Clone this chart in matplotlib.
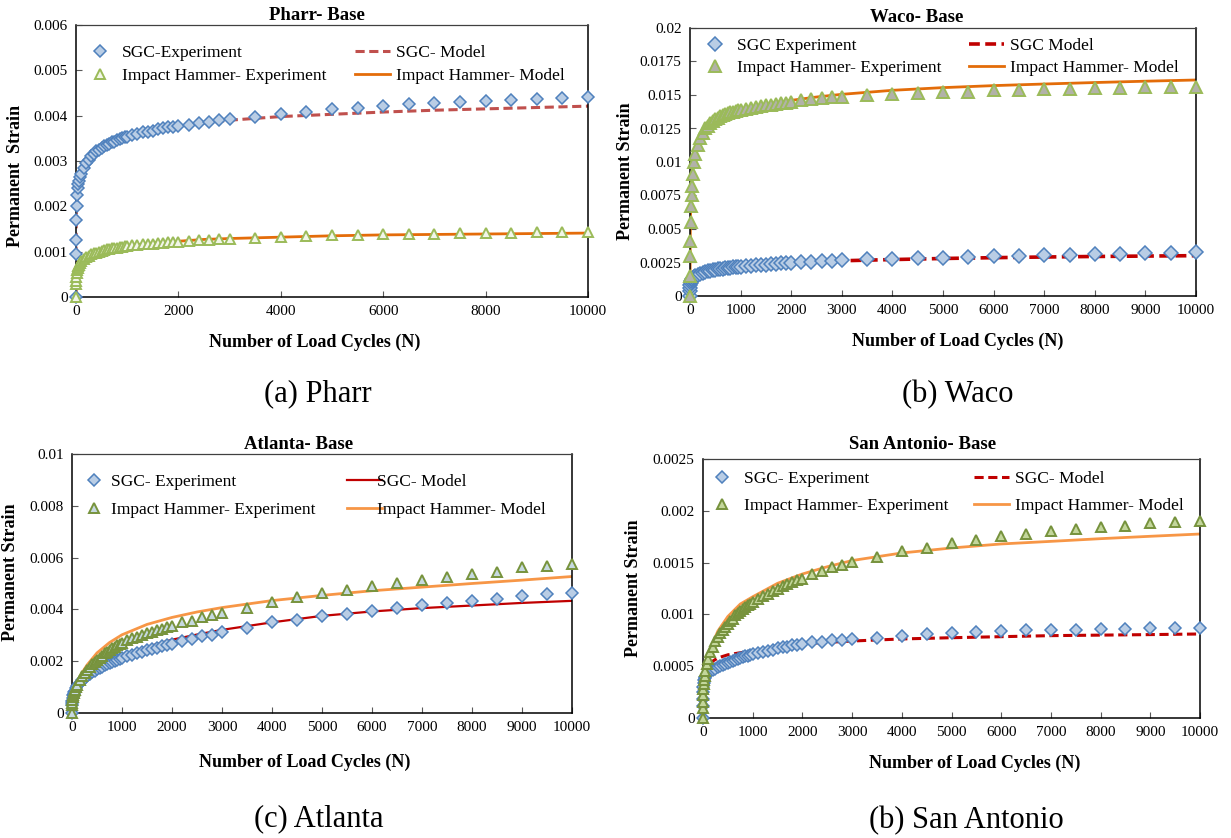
import numpy as np
import matplotlib
matplotlib.use('Agg')
import matplotlib.pyplot as plt
from matplotlib.lines import Line2D
from matplotlib.ticker import FuncFormatter, MultipleLocator

plt.rcParams['font.family'] = ['Liberation Serif', 'DejaVu Serif']

# --- data (strain values in units of 1e-3) ---
x_exp = [0, 1, 2, 5, 10, 20, 30, 40, 50, 75, 100,
         150, 200, 250, 300, 350, 400, 450, 500, 550, 600, 650, 700, 750, 800, 850, 900, 950, 1000,
         1100, 1200, 1300, 1400, 1500, 1600, 1700, 1800, 1900, 2000,
         2200, 2400, 2600, 2800, 3000,
         3500, 4000, 4500, 5000, 5500, 6000, 6500, 7000, 7500, 8000, 8500, 9000, 9500, 10000]
x_mod = [0, 1, 5, 10, 25, 50, 100, 200, 300, 500, 750, 1000, 1500, 2000, 2500, 3000,
         4000, 5000, 6000, 7000, 8000, 9000, 10000]

pharr_sgc_exp = [0, 0.95, 1.25, 1.7, 2.0, 2.25, 2.4, 2.5, 2.55, 2.65, 2.72,
                 2.85, 2.95, 3.03, 3.1, 3.16, 3.21, 3.25, 3.29, 3.32, 3.35, 3.38, 3.41, 3.43, 3.46, 3.48, 3.5, 3.52, 3.54,
                 3.57, 3.6, 3.63, 3.65, 3.67, 3.7, 3.72, 3.74, 3.76, 3.78,
                 3.80, 3.83, 3.87, 3.90, 3.93,
                 3.98, 4.04, 4.09, 4.14, 4.18, 4.21, 4.25, 4.28, 4.30, 4.32, 4.35, 4.37, 4.39, 4.41]
pharr_ih_exp = [0, 0.28, 0.35, 0.45, 0.52, 0.6, 0.65, 0.68, 0.7, 0.75, 0.79,
                0.84, 0.88, 0.91, 0.94, 0.96, 0.98, 1.0, 1.02, 1.03, 1.05, 1.06, 1.07, 1.08, 1.09, 1.10, 1.11, 1.12, 1.13,
                1.14, 1.15, 1.16, 1.17, 1.18, 1.19, 1.20, 1.21, 1.21, 1.22,
                1.24, 1.25, 1.26, 1.27, 1.29,
                1.31, 1.33, 1.34, 1.36, 1.37, 1.38, 1.39, 1.40, 1.41, 1.42, 1.42, 1.43, 1.44, 1.44]
pharr_sgc_mod = [0, 1.0, 1.7, 2.0, 2.35, 2.55, 2.75, 2.97, 3.1, 3.3, 3.45, 3.55, 3.68, 3.77, 3.84, 3.90,
                 3.98, 4.03, 4.08, 4.12, 4.15, 4.18, 4.21]
pharr_ih_mod = [0, 0.3, 0.45, 0.52, 0.62, 0.7, 0.79, 0.89, 0.95, 1.02, 1.09, 1.13, 1.19, 1.23, 1.27, 1.29,
                1.32, 1.35, 1.37, 1.38, 1.39, 1.40, 1.41]

waco_sgc_exp = [0, 0.4, 0.6, 0.8, 0.95, 1.1, 1.2, 1.27, 1.32, 1.42, 1.5,
                1.6, 1.67, 1.74, 1.8, 1.85, 1.89, 1.93, 1.96, 1.99, 2.02, 2.05, 2.08, 2.1, 2.12, 2.14, 2.16, 2.18, 2.2,
                2.23, 2.26, 2.29, 2.32, 2.35, 2.38, 2.4, 2.43, 2.46, 2.49,
                2.54, 2.57, 2.6, 2.64, 2.67,
                2.74, 2.79, 2.82, 2.86, 2.91, 2.96, 3.01, 3.04, 3.07, 3.12, 3.14, 3.2, 3.24, 3.26]
waco_ih_exp = [0, 1.5, 3.0, 4.1, 5.5, 6.7, 7.5, 8.2, 9.1, 10.0, 10.6,
               11.3, 11.8, 12.2, 12.5, 12.7, 12.9, 13.05, 13.2, 13.3, 13.4, 13.5, 13.6, 13.65, 13.7, 13.75, 13.8, 13.85, 13.9,
               13.97, 14.04, 14.1, 14.16, 14.22, 14.28, 14.33, 14.38, 14.43, 14.5,
               14.6, 14.69, 14.77, 14.84, 14.87,
               14.97, 15.04, 15.12, 15.19, 15.24, 15.34, 15.37, 15.44, 15.47, 15.5, 15.54, 15.6, 15.6, 15.6]
waco_sgc_mod = [0, 0.5, 0.85, 1.0, 1.2, 1.35, 1.5, 1.68, 1.8, 1.96, 2.1, 2.2, 2.35, 2.47, 2.56, 2.63,
                2.72, 2.8, 2.86, 2.91, 2.95, 2.98, 3.01]
waco_ih_mod = [0, 1.5, 4.5, 6.0, 8.0, 9.3, 10.6, 11.8, 12.5, 13.2, 13.6, 13.9, 14.3, 14.6, 14.85, 15.05,
               15.35, 15.55, 15.7, 15.82, 15.93, 16.03, 16.12]

atl_sgc_exp = [0, 0.3, 0.38, 0.48, 0.58, 0.68, 0.75, 0.8, 0.85, 0.95, 1.03,
               1.15, 1.26, 1.35, 1.43, 1.5, 1.57, 1.63, 1.68, 1.74, 1.79, 1.84, 1.88, 1.93, 1.97, 2.01, 2.05, 2.09, 2.12,
               2.19, 2.25, 2.31, 2.37, 2.42, 2.47, 2.52, 2.57, 2.62, 2.66,
               2.79, 2.85, 2.96, 3.03, 3.12,
               3.3, 3.5, 3.6, 3.73, 3.84, 3.95, 4.06, 4.18, 4.25, 4.34, 4.42, 4.51, 4.59, 4.63]
atl_ih_exp = [0, 0.3, 0.4, 0.5, 0.6, 0.7, 0.78, 0.85, 0.9, 1.0, 1.1,
              1.28, 1.42, 1.55, 1.67, 1.78, 1.88, 1.97, 2.06, 2.14, 2.22, 2.3, 2.37, 2.44, 2.5, 2.56, 2.62, 2.67, 2.72,
              2.8, 2.88, 2.95, 3.02, 3.08, 3.14, 3.2, 3.26, 3.31, 3.37,
              3.5, 3.57, 3.69, 3.78, 3.88,
              4.05, 4.28, 4.47, 4.65, 4.76, 4.92, 5.01, 5.13, 5.27, 5.37, 5.46, 5.62, 5.68, 5.76]
atl_sgc_mod = [0, 0.25, 0.45, 0.55, 0.72, 0.87, 1.07, 1.35, 1.55, 1.85, 2.05, 2.22, 2.55, 2.83, 3.03, 3.21,
               3.5, 3.75, 3.92, 4.05, 4.15, 4.25, 4.33]
atl_ih_mod = [0, 0.25, 0.45, 0.55, 0.75, 0.92, 1.18, 1.55, 1.85, 2.32, 2.72, 3.02, 3.42, 3.69, 3.9, 4.07,
              4.34, 4.54, 4.72, 4.86, 5.0, 5.13, 5.27]

sa_sgc_exp = [0, 0.12, 0.18, 0.25, 0.3, 0.34, 0.37, 0.39, 0.4, 0.42, 0.43,
              0.45, 0.46, 0.475, 0.49, 0.5, 0.51, 0.52, 0.53, 0.54, 0.55, 0.56, 0.57, 0.58, 0.585, 0.595, 0.6, 0.61, 0.618,
              0.63, 0.64, 0.65, 0.66, 0.676, 0.685, 0.69, 0.70, 0.705, 0.714,
              0.73, 0.737, 0.75, 0.756, 0.763,
              0.775, 0.795, 0.808, 0.824, 0.83, 0.837, 0.846, 0.853, 0.853, 0.862, 0.862, 0.866, 0.866, 0.868]
sa_ih_exp = [0, 0.1, 0.15, 0.22, 0.28, 0.33, 0.37, 0.41, 0.45, 0.52, 0.57,
             0.64, 0.69, 0.74, 0.78, 0.82, 0.85, 0.88, 0.91, 0.94, 0.96, 0.99, 1.01, 1.03, 1.05, 1.07, 1.09, 1.1, 1.12,
             1.15, 1.18, 1.2, 1.23, 1.25, 1.27, 1.29, 1.31, 1.33, 1.345,
             1.393, 1.416, 1.454, 1.477, 1.506,
             1.554, 1.615, 1.644, 1.689, 1.718, 1.754, 1.773, 1.805, 1.824, 1.844, 1.856, 1.879, 1.889, 1.898]
sa_sgc_mod = [0, 0.2, 0.3, 0.35, 0.42, 0.46, 0.5, 0.55, 0.58, 0.61, 0.63, 0.645, 0.685, 0.717, 0.73, 0.743,
              0.763, 0.775, 0.785, 0.795, 0.8, 0.805, 0.811]
sa_ih_mod = [0, 0.1, 0.2, 0.27, 0.38, 0.47, 0.58, 0.73, 0.84, 0.98, 1.1, 1.17, 1.3, 1.39, 1.46, 1.52,
             1.593, 1.641, 1.68, 1.705, 1.731, 1.754, 1.776]

W, H = 1231, 838


def fx(x):
    return x / W


def fy(y):
    return 1 - y / H


# pixel layout per panel: box = (left, top, right, bottom)
panels = [
    dict(title='Pharr- Base', caption='(a) Pharr', ylabel='Permanent  Strain',
         box=(76, 25, 588, 297), ymax=0.006, ystep=0.001, xstep=2000,
         title_xy=(317, 15), xlab_xy=(315, 342), ylab_xy=(16, 176), cap_xy=(318, 394),
         leg1=(100, 122), leg2=(355, 396), rows=(51, 78), lspace=0.4,
         data=(pharr_sgc_exp, pharr_ih_exp, pharr_sgc_mod, pharr_ih_mod),
         labels=('SGC-Experiment', 'Impact Hammer- Experiment', 'SGC- Model', 'Impact Hammer- Model'),
         sgc_ms=6, ih_ms=6.5, ih_face='#f2f6e9', ih_edge='#9bbb59',
         sgc_line=dict(color='#c0504d', ls=(0, (3, 1.5)), lw=2.2),
         ih_line=dict(color='#e46c0a', ls='-', lw=2)),
    dict(title='Waco- Base', caption='(b) Waco', ylabel='Permanent Strain',
         box=(690, 28, 1196, 296), ymax=0.02, ystep=0.0025, xstep=1000,
         title_xy=(917, 17), xlab_xy=(958, 341), ylab_xy=(625, 171), cap_xy=(958, 395),
         leg1=(715, 737), leg2=(969, 1010), rows=(44, 70), lspace=0.35,
         data=(waco_sgc_exp, waco_ih_exp, waco_sgc_mod, waco_ih_mod),
         labels=('SGC Experiment', 'Impact Hammer- Experiment', 'SGC Model', 'Impact Hammer- Model'),
         sgc_ms=7, ih_ms=8, ih_face='#b2b2a8', ih_edge='#9bbb59',
         sgc_line=dict(color='#c00000', ls=(0, (3, 1.5)), lw=2.6),
         ih_line=dict(color='#e36c09', ls='-', lw=2)),
    dict(title='Atlanta- Base', caption='(c) Atlanta', ylabel='Permanent Strain',
         box=(72, 454, 572, 713), ymax=0.01, ystep=0.002, xstep=1000,
         title_xy=(299, 444), xlab_xy=(305, 762), ylab_xy=(11, 572), cap_xy=(319, 819),
         leg1=(94, 111), leg2=(347, 377), rows=(480, 512), lspace=0.7,
         data=(atl_sgc_exp, atl_ih_exp, atl_sgc_mod, atl_ih_mod),
         labels=('SGC- Experiment', 'Impact Hammer- Experiment', 'SGC- Model', 'Impact Hammer- Model'),
         sgc_ms=6, ih_ms=7.5, ih_face='#c6d9e0', ih_edge='#77933c',
         sgc_line=dict(color='#c00000', ls='-', lw=1.6),
         ih_line=dict(color='#f79646', ls='-', lw=2)),
    dict(title='San Antonio- Base', caption='(b) San Antonio', ylabel='Permanent Strain',
         box=(703, 459, 1200, 718), ymax=0.0025, ystep=0.0005, xstep=1000,
         title_xy=(923, 444), xlab_xy=(975, 763), ylab_xy=(634, 588), cap_xy=(966, 821),
         leg1=(722, 744), leg2=(974, 1015), rows=(477, 508), lspace=0.63,
         data=(sa_sgc_exp, sa_ih_exp, sa_sgc_mod, sa_ih_mod),
         labels=('SGC- Experiment', 'Impact Hammer- Experiment', 'SGC- Model', 'Impact Hammer- Model'),
         sgc_ms=6.5, ih_ms=6.5, ih_face='#c3d69b', ih_edge='#76923c',
         sgc_line=dict(color='#c00000', ls=(0, (3, 1.5)), lw=2.2),
         ih_line=dict(color='#f79646', ls='-', lw=2)),
]

fig = plt.figure(figsize=(W / 100, H / 100), dpi=100)

LEG_FS = 12.5
fs_px = LEG_FS * 100 / 72

for p in panels:
    l, t, r, b = p['box']
    ax = fig.add_axes([fx(l), fy(b), (r - l) / W, (b - t) / H])
    sgc_e, ih_e, sgc_m, ih_m = [np.array(v) * 1e-3 for v in p['data']]

    l_sgc, = ax.plot(x_mod, sgc_m, color=p['sgc_line']['color'], ls=p['sgc_line']['ls'],
                     lw=p['sgc_line']['lw'], zorder=2)
    l_ih, = ax.plot(x_mod, ih_m, color=p['ih_line']['color'], ls=p['ih_line']['ls'],
                    lw=p['ih_line']['lw'], zorder=2)
    m_sgc, = ax.plot(x_exp, sgc_e, ls='none', marker='D', ms=p['sgc_ms'], mfc='#b9cde5',
                     mec='#4f81bd', mew=1.1, zorder=3, clip_on=False)
    m_ih, = ax.plot(x_exp, ih_e, ls='none', marker='^', ms=p['ih_ms'], mfc=p['ih_face'],
                    mec=p['ih_edge'], mew=1.4, zorder=3, clip_on=False)

    ax.set_xlim(0, 10000)
    ax.set_ylim(0, p['ymax'])
    ax.xaxis.set_major_locator(MultipleLocator(p['xstep']))
    ax.yaxis.set_major_locator(MultipleLocator(p['ystep']))
    ax.yaxis.set_major_formatter(FuncFormatter(lambda v, pos: '%g' % round(v, 6)))
    ax.tick_params(direction='in', length=4, width=0.8, color='#595959', labelsize=11, pad=6)
    for s in ['left', 'bottom', 'right']:
        ax.spines[s].set_color('black')
        ax.spines[s].set_linewidth(1.1)
    ax.spines['top'].set_color('#404040')
    ax.spines['top'].set_linewidth(0.9)

    # legends: two single-column blocks
    ymid = (p['rows'][0] + p['rows'][1]) / 2
    hl1 = 1.5
    start1 = p['leg1'][0] - hl1 * fs_px / 2
    pad1 = (p['leg1'][1] - (start1 + hl1 * fs_px)) / fs_px
    leg_a = ax.legend([m_sgc, m_ih], [p['labels'][0], p['labels'][1]], loc='center left',
                      bbox_to_anchor=(fx(start1), fy(ymid)), bbox_transform=fig.transFigure,
                      frameon=False, fontsize=LEG_FS, borderpad=0, borderaxespad=0,
                      handlelength=hl1, handletextpad=pad1, labelspacing=p['lspace'], numpoints=1)
    ax.add_artist(leg_a)
    hl2 = 2.0
    start2 = p['leg2'][0]
    pad2 = (p['leg2'][1] - (start2 + hl2 * fs_px)) / fs_px
    ax.legend([l_sgc, l_ih], [p['labels'][2], p['labels'][3]], loc='center left',
              bbox_to_anchor=(fx(start2), fy(ymid)), bbox_transform=fig.transFigure,
              frameon=False, fontsize=LEG_FS, borderpad=0, borderaxespad=0,
              handlelength=hl2, handletextpad=pad2, labelspacing=p['lspace'])

    fig.text(fx(p['title_xy'][0]), fy(p['title_xy'][1]), p['title'], ha='center', va='center',
             fontsize=13.5, fontweight='bold')
    fig.text(fx(p['xlab_xy'][0]), fy(p['xlab_xy'][1]), 'Number of Load Cycles (N)', ha='center',
             va='center', fontsize=13, fontweight='bold')
    fig.text(fx(p['ylab_xy'][0]), fy(p['ylab_xy'][1]), p['ylabel'], ha='center', va='center',
             rotation=90, fontsize=13, fontweight='bold')
    fig.text(fx(p['cap_xy'][0]), fy(p['cap_xy'][1]), p['caption'], ha='center', va='center',
             fontsize=22)

fig.savefig('out.png', dpi=100)
